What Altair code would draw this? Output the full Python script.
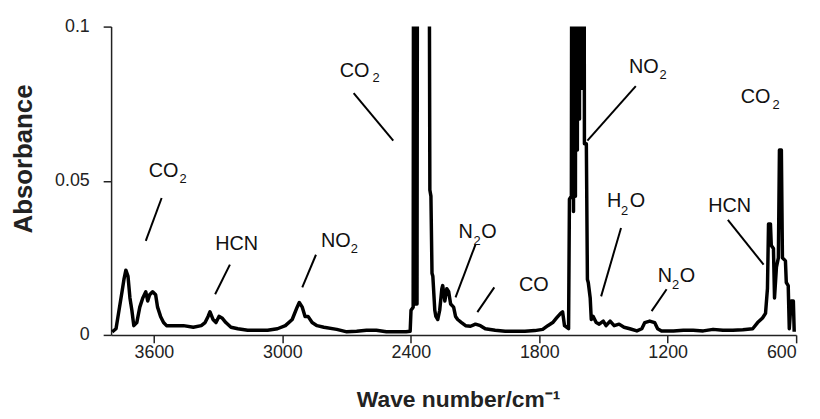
import altair as alt
import pandas as pd

# ---- spectrum ----
wavenumber = [3795, 3777, 3763, 3749, 3740, 3731, 3721, 3712, 3703, 3694, 3680, 3666, 3652, 3638,
              3629, 3620, 3606, 3592, 3583, 3569, 3555, 3541, 3509, 3462, 3416, 3379, 3361, 3347,
              3338, 3324, 3310, 3296, 3282, 3264, 3240, 3208, 3162, 3116, 3069, 3023, 2986, 2954,
              2931, 2921, 2907, 2894, 2880, 2861, 2838, 2806, 2746, 2699, 2653, 2607, 2561, 2514,
              2468, 2422, 2403, 2399, 2389, 2385, 2380, 2376, 2371, 2366, 2320, 2311, 2306, 2301,
              2297, 2288, 2283, 2274, 2265, 2255, 2251, 2241, 2232, 2223, 2214, 2200, 2191, 2181,
              2163, 2144, 2121, 2098, 2075, 2052, 2006, 1959, 1913, 1867, 1821, 1784, 1760, 1737,
              1719, 1700, 1691, 1682, 1663, 1659, 1650, 1645, 1640, 1636, 1631, 1626, 1622, 1617,
              1612, 1608, 1603, 1599, 1594, 1589, 1580, 1575, 1571, 1562, 1557, 1548, 1534, 1520,
              1501, 1488, 1469, 1450, 1427, 1404, 1377, 1344, 1321, 1307, 1284, 1261, 1247, 1229,
              1173, 1127, 1081, 1034, 988, 942, 896, 849, 803, 780, 757, 743, 734, 729, 720, 716,
              706, 701, 692, 683, 678, 669, 664, 650, 646, 637, 632, 623, 613, 609]
absorbance = [0.001, 0.002, 0.008, 0.014, 0.018, 0.021, 0.019, 0.012, 0.008, 0.003, 0.004, 0.009,
              0.012, 0.014, 0.011, 0.013, 0.014, 0.013, 0.009, 0.006, 0.004, 0.003, 0.003, 0.003,
              0.0025, 0.003, 0.004, 0.006, 0.0075, 0.005, 0.004, 0.006, 0.0055, 0.004, 0.0025,
              0.002, 0.0015, 0.0015, 0.0015, 0.002, 0.003, 0.005, 0.009, 0.0105, 0.009, 0.006,
              0.006, 0.004, 0.003, 0.0025, 0.0018, 0.001, 0.0012, 0.0015, 0.0015, 0.001, 0.001,
              0.001, 0.0012, 0.008, 0.009, 0.3, 0.01, 0.3, 0.01, 0.3, 0.3, 0.047, 0.045, 0.020,
              0.019, 0.008, 0.006, 0.005, 0.008, 0.015, 0.016, 0.011, 0.015, 0.014, 0.010, 0.009,
              0.006, 0.005, 0.004, 0.003, 0.0028, 0.0035, 0.003, 0.002, 0.0015, 0.0012, 0.0012,
              0.0012, 0.0014, 0.0018, 0.003, 0.004, 0.0055, 0.007, 0.0075, 0.003, 0.002, 0.044,
              0.045, 0.3, 0.04, 0.3, 0.045, 0.3, 0.06, 0.3, 0.07, 0.3, 0.08, 0.3, 0.3, 0.062,
              0.062, 0.018, 0.017, 0.012, 0.005, 0.006, 0.004, 0.0035, 0.0045, 0.003, 0.0045,
              0.003, 0.0035, 0.0025, 0.002, 0.0013, 0.002, 0.004, 0.0045, 0.004, 0.002, 0.0013,
              0.0013, 0.0015, 0.0015, 0.0013, 0.0018, 0.0015, 0.0015, 0.0017, 0.002, 0.004,
              0.0055, 0.007, 0.015, 0.036, 0.036, 0.029, 0.028, 0.012, 0.022, 0.025, 0.060, 0.060,
              0.025, 0.024, 0.017, 0.016, 0.002, 0.011, 0.011, 0.001]

# ---- annotation labels (pieces so subscripts can be drawn lower/smaller) ----
label_text = ["CO", "2", "HCN", "NO", "2", "CO", "2", "N", "2", "O", "CO", "NO", "2",
              "CO", "2", "H", "2", "O", "N", "2", "O", "HCN"]
label_wn = [3624, 3481, 3314, 2820, 2681, 2732, 2579, 2177, 2107, 2071, 1895, 1381, 1238,
            859, 711, 1483, 1418, 1377, 1247, 1180, 1144, 1011]
label_abs = [0.0511, 0.0492, 0.0276, 0.0286, 0.0267, 0.0836, 0.0820, 0.0315, 0.0293, 0.0315,
             0.0141, 0.0849, 0.0829, 0.0752, 0.0733, 0.0415, 0.0389, 0.0415, 0.0170, 0.0148,
             0.0170, 0.0399]
label_sub = [False, True, False, False, True, False, True, False, True, False, False, False,
             True, False, True, False, True, False, False, True, False, False]

# ---- leader lines ----
lead_x1 = [3564, 3245, 2843, 2667, 2098, 2010, 1349, 1418, 1205, 919]
lead_y1 = [0.0444, 0.0228, 0.0260, 0.0784, 0.0293, 0.0154, 0.0807, 0.0347, 0.0148, 0.0373]
lead_x2 = [3638, 3314, 2907, 2482, 2191, 2089, 1575, 1511, 1275, 752]
lead_y2 = [0.0305, 0.0132, 0.0154, 0.0630, 0.0122, 0.0074, 0.0630, 0.0125, 0.0077, 0.0228]

x_ticks = [3600, 3000, 2400, 1800, 1200, 600]
y_ticks = [0, 0.05, 0.1]

FONT = "Liberation Sans, Arial, Helvetica, sans-serif"

spec = pd.DataFrame({"wn": wavenumber, "a": absorbance, "i": range(len(wavenumber))})
labels = pd.DataFrame({"t": label_text, "wn": label_wn, "a": label_abs, "sub": label_sub})
leads = pd.DataFrame({"x1": lead_x1, "y1": lead_y1, "x2": lead_x2, "y2": lead_y2})

xscale = alt.Scale(domain=[600, 3800], reverse=True, nice=False, zero=False)
yscale = alt.Scale(domain=[0, 0.1], nice=False, zero=False)

xaxis = alt.Axis(values=x_ticks, format="d", title="Wave number/cm⁻¹", grid=False,
                 tickSize=8, tickWidth=1.5, tickColor="#222", domainColor="#222",
                 domainWidth=1.5, labelFontSize=18, labelColor="#222", labelFont=FONT,
                 labelPadding=1, titleFont=FONT, titleFontSize=23, titleFontWeight="bold",
                 titleColor="#222", titleBaseline="alphabetic", titleY=72, titleX=350)
yaxis = alt.Axis(values=y_ticks, format="~g", title="Absorbance", grid=False,
                 tickSize=8, tickWidth=1.5, tickColor="#222", domainColor="#222",
                 domainWidth=1.5, labelFontSize=18, labelColor="#222", labelFont=FONT,
                 labelPadding=14, titleFont=FONT, titleFontSize=26, titleFontWeight="bold",
                 titleColor="#222", titleBaseline="alphabetic", titleX=-80, titleY=133)

line = alt.Chart(spec).mark_line(color="black", strokeWidth=3.5, clip=True,
                                 strokeJoin="round").encode(
    x=alt.X("wn:Q", scale=xscale, axis=xaxis),
    y=alt.Y("a:Q", scale=yscale, axis=yaxis),
    order="i:Q",
)

rules = alt.Chart(leads).mark_rule(color="black", strokeWidth=2).encode(
    x="x1:Q", y="y1:Q", x2="x2:Q", y2="y2:Q")

main_txt = alt.Chart(labels).transform_filter("!datum.sub").mark_text(
    align="left", baseline="alphabetic", font=FONT, fontSize=20, color="#111").encode(
    x="wn:Q", y="a:Q", text="t:N")

sub_txt = alt.Chart(labels).transform_filter("datum.sub").mark_text(
    align="left", baseline="alphabetic", font=FONT, fontSize=13, color="#111").encode(
    x="wn:Q", y="a:Q", text="t:N")

chart = alt.layer(line, rules, main_txt, sub_txt).properties(
    width=691, height=311,
    autosize=alt.AutoSizeParams(type="none"),
    padding={"left": 104, "top": 17, "right": 16, "bottom": 75},
).configure_view(stroke=None)

chart.save("out.html", embed_options={"renderer": "svg", "actions": False})
